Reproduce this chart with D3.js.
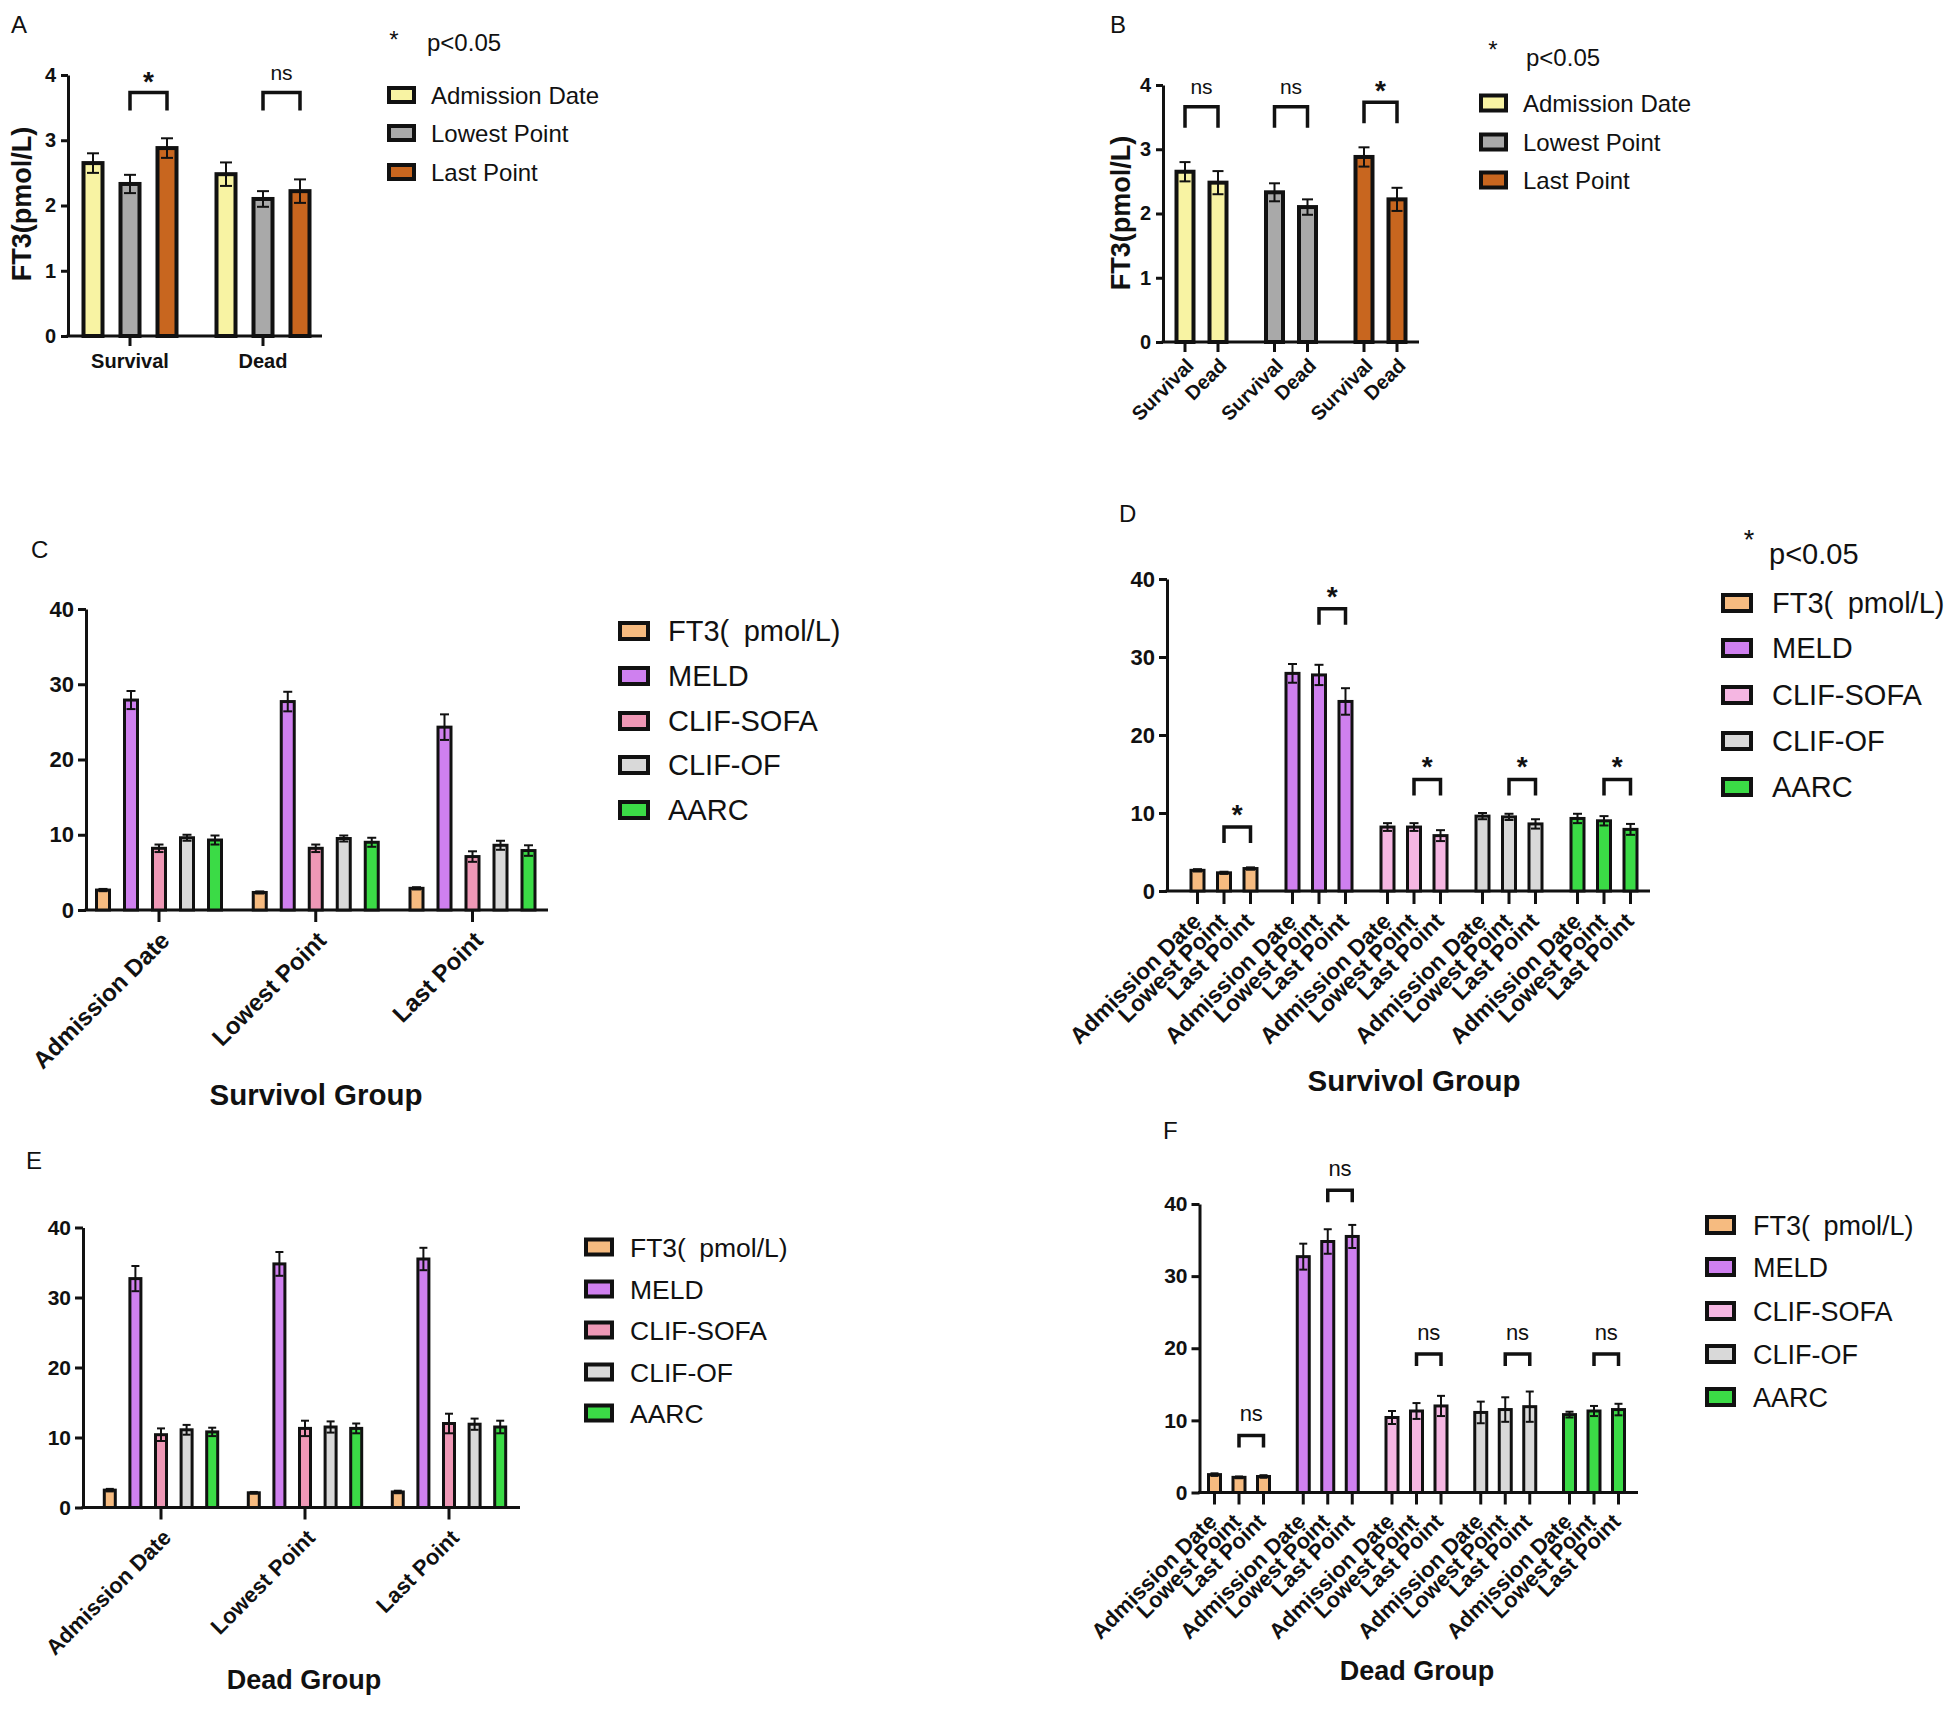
<!DOCTYPE html>
<html><head><meta charset="utf-8">
<script src="https://cdn.jsdelivr.net/npm/d3@7"></script>
<style>
body{margin:0;background:#fff;}
svg{display:block;font-family:"Liberation Sans",Arial,Helvetica,sans-serif;}
</style></head><body>
<svg id="chart" width="1960" height="1711"></svg>
<script>
// ---------------- DATA ----------------
const timePoints = ["Admission Date", "Lowest Point", "Last Point"];
const outcomes = ["Survival", "Dead"];
const scores = ["FT3(\u2002pmol/L)", "MELD", "CLIF-SOFA", "CLIF-OF", "AARC"];
const ft3Ticks = [0, 1, 2, 3, 4];
const scoreTicks = [0, 10, 20, 30, 40];

// Survival group (per time point: Admission, Lowest, Last)
const survFT3 = [2.65, 2.33, 2.88];
const survFT3Err = [0.15, 0.14, 0.15];
const survMELD = [27.9, 27.7, 24.3];
const survMELDErr = [1.2, 1.3, 1.7];
const survSOFA = [8.2, 8.2, 7.1];
const survSOFAErr = [0.5, 0.5, 0.7];
const survOF = [9.6, 9.5, 8.6];
const survOFErr = [0.4, 0.4, 0.6];
const survAARC = [9.3, 9.0, 7.9];
const survAARCErr = [0.6, 0.6, 0.7];

// Dead group
const deadFT3 = [2.48, 2.10, 2.22];
const deadFT3Err = [0.18, 0.12, 0.18];
const deadMELD = [32.7, 34.8, 35.5];
const deadMELDErr = [1.8, 1.7, 1.6];
const deadSOFA = [10.4, 11.3, 12.0];
const deadSOFAErr = [0.9, 1.1, 1.4];
const deadOF = [11.1, 11.5, 11.9];
const deadOFErr = [0.7, 0.8, 0.8];
const deadOFErrF = [1.5, 1.7, 2.1];
const deadAARC = [10.8, 11.3, 11.5];
const deadAARCErr = [0.6, 0.7, 0.9];
const deadAARCErrF = [0.4, 0.7, 0.8];

// significance labels
const sigA = ["*", "ns"];
const sigB = ["ns", "ns", "*"];
const sigD = ["*", "*", "*", "*", "*"];
const sigF = ["ns", "ns", "ns", "ns", "ns"];
const bracketTopA = [3.73, 3.73];
const bracketTopB = [3.66, 3.66, 3.73];
const bracketTopD = [8.2, 36.2, 14.3, 14.3, 14.3];
const bracketTopF = [7.9, 41.9, 19.2, 19.2, 19.2];

// colours
const timeColors = ["#f8f3a3", "#a9a9a9", "#c8661f"];
const scoreColors = ["#f6bb80", "#cf80ef", "#ef98b6", "#d9d9d9", "#3bdb46"];
const scoreColorsAlt = ["#f6bb80", "#cf80ef", "#f5b6e2", "#d9d9d9", "#3bdb46"];

// ---------------- HELPERS ----------------
const survMean = [survFT3, survMELD, survSOFA, survOF, survAARC];
const survErr = [survFT3Err, survMELDErr, survSOFAErr, survOFErr, survAARCErr];
const deadMean = [deadFT3, deadMELD, deadSOFA, deadOF, deadAARC];
const deadErrE = [deadFT3Err, deadMELDErr, deadSOFAErr, deadOFErr, deadAARCErr];
const deadErrF = [deadFT3Err, deadMELDErr, deadSOFAErr, deadOFErrF, deadAARCErrF];
const ft3Mean = {Survival: survFT3, Dead: deadFT3};
const ft3Err = {Survival: survFT3Err, Dead: deadFT3Err};
const ti = t => timePoints.indexOf(t);
const si = s => scores.indexOf(s);

const svg = d3.select("#chart");
const INK = "#111";

function drawPanel(c) {
  const root = svg.append("g");
  const y = d3.scaleLinear().domain([0, c.yMax]).range([c.y0, c.yTop]);
  const xg = d3.scalePoint().domain(c.groups).range(c.gRange);
  const xs = d3.scalePoint().domain(c.series).range([-c.innerHalf, c.innerHalf]);
  const cx = (gr, se) => xg(gr) + xs(se);
  const cells = [];
  c.groups.forEach(gr => c.series.forEach(se => cells.push({
    gr, se, v: c.value(gr, se), e: c.err(gr, se), fill: c.fill(gr, se)
  })));

  // y axis
  const yAxis = d3.axisLeft(y).tickValues(c.yTicks).tickSize(c.yTickLen)
    .tickSizeOuter(0).tickPadding(c.yTickPad).tickFormat(d3.format("d"));
  const ya = root.append("g").attr("transform", `translate(${c.axX},0)`).call(yAxis);
  ya.select(".domain").attr("stroke", INK).attr("stroke-width", c.axW);
  ya.selectAll(".tick line").attr("stroke", INK).attr("stroke-width", c.axW);
  ya.selectAll(".tick text").attr("font-size", c.tickFs).attr("font-weight", "bold")
    .attr("fill", INK).attr("font-family", "Liberation Sans, Arial, sans-serif");

  // x axis line
  root.append("line").attr("x1", c.axX - c.axW / 2).attr("x2", c.axRight)
    .attr("y1", y(0)).attr("y2", y(0)).attr("stroke", INK).attr("stroke-width", c.axW);

  // x ticks + labels
  const ticks = c.tickMode === "group"
    ? c.groups.map(gr => ({x: xg(gr), label: gr}))
    : cells.map(d => ({x: cx(d.gr, d.se), label: d.se}));
  root.selectAll("line.xt").data(ticks).join("line").attr("class", "xt")
    .attr("x1", d => d.x).attr("x2", d => d.x)
    .attr("y1", y(0)).attr("y2", y(0) + c.tickLen)
    .attr("stroke", INK).attr("stroke-width", c.axW);
  if (c.rotLabels) {
    root.selectAll("text.xl").data(ticks).join("text").attr("class", "xl")
      .attr("transform", d => `translate(${d.x + c.rotDx},${y(0) + c.tickLen + c.rotDy}) rotate(-45)`)
      .attr("text-anchor", "end").attr("dy", "0.35em")
      .attr("font-size", c.xFs).attr("font-weight", "bold").attr("fill", INK)
      .text(d => d.label);
  } else {
    root.selectAll("text.xl").data(ticks).join("text").attr("class", "xl")
      .attr("x", d => d.x).attr("y", y(0) + c.flatDy)
      .attr("text-anchor", "middle")
      .attr("font-size", c.xFs).attr("font-weight", "bold").attr("fill", INK)
      .text(d => d.label);
  }

  // bars
  root.selectAll("rect.bar").data(cells).join("rect").attr("class", "bar")
    .attr("x", d => cx(d.gr, d.se) - c.barW / 2)
    .attr("y", d => y(d.v))
    .attr("width", c.barW)
    .attr("height", d => y(0) - y(d.v))
    .attr("fill", d => d.fill).attr("stroke", INK).attr("stroke-width", c.barStroke);

  // error bars
  const eb = root.selectAll("g.eb").data(cells).join("g").attr("class", "eb");
  eb.append("line").attr("x1", d => cx(d.gr, d.se)).attr("x2", d => cx(d.gr, d.se))
    .attr("y1", d => y(d.v - d.e)).attr("y2", d => y(d.v + d.e))
    .attr("stroke", INK).attr("stroke-width", c.errW);
  [1, -1].forEach(s => {
    eb.append("line")
      .attr("x1", d => cx(d.gr, d.se) - c.capW / 2).attr("x2", d => cx(d.gr, d.se) + c.capW / 2)
      .attr("y1", d => y(d.v + s * d.e)).attr("y2", d => y(d.v + s * d.e))
      .attr("stroke", INK).attr("stroke-width", c.errW);
  });

  // significance brackets
  if (c.brackets) {
    c.brackets.forEach(b => {
      const x1 = cx(b.g, b.a), x2 = cx(b.g, b.b), yt = y(b.top);
      root.append("path")
        .attr("d", `M${x1},${yt + c.legLen}V${yt}H${x2}V${yt + c.legLen}`)
        .attr("fill", "none").attr("stroke", INK).attr("stroke-width", c.brW);
      const isStar = b.text === "*";
      const fs = isStar ? c.starFs : c.nsFs;
      root.append("text").attr("x", (x1 + x2) / 2)
        .attr("y", yt - c.labelOff + (isStar ? 0.57 : 0.26) * fs)
        .attr("text-anchor", "middle").attr("font-size", fs)
        .attr("font-weight", isStar ? "bold" : "normal").attr("fill", INK)
        .text(b.text);
    });
  }

  // legend
  const L = c.legend;
  const lg = root.selectAll("g.lg").data(L.items).join("g").attr("class", "lg");
  lg.append("rect").attr("x", L.x).attr("y", (d, i) => L.rows[i] - L.sh / 2)
    .attr("width", L.sw).attr("height", L.sh)
    .attr("fill", (d, i) => L.colors[i]).attr("stroke", INK).attr("stroke-width", L.stroke);
  lg.append("text").attr("x", L.textX).attr("y", (d, i) => L.rows[i])
    .attr("dy", "0.36em").attr("font-size", L.fs).attr("fill", INK).text(d => d);

  if (c.pnote) {
    const p = c.pnote;
    root.append("text").attr("x", p.sx).attr("y", p.sy + 0.57 * p.sfs)
      .attr("text-anchor", "middle").attr("font-size", p.sfs).attr("fill", INK).text("*");
    root.append("text").attr("x", p.tx).attr("y", p.ty).attr("font-size", p.fs)
      .attr("fill", INK).text("p<0.05");
  }
  root.append("text").attr("x", c.letter.x).attr("y", c.letter.y)
    .attr("font-size", c.letter.fs).attr("fill", INK).text(c.letter.t);
  if (c.yTitle) {
    root.append("text").attr("transform", `translate(${c.yTitle.x},${c.yTitle.y}) rotate(-90)`)
      .attr("text-anchor", "middle").attr("font-size", c.yTitle.fs).attr("font-weight", "bold")
      .attr("fill", INK).text(c.yTitle.t);
  }
  if (c.xTitle) {
    root.append("text").attr("x", c.xTitle.x).attr("y", c.xTitle.y)
      .attr("text-anchor", "middle").attr("font-size", c.xTitle.fs).attr("font-weight", "bold")
      .attr("fill", INK).text(c.xTitle.t);
  }
}

// ---------------- PANEL A ----------------
drawPanel({
  groups: outcomes, series: timePoints,
  value: (g, s) => ft3Mean[g][ti(s)], err: (g, s) => ft3Err[g][ti(s)],
  fill: (g, s) => timeColors[ti(s)],
  yMax: 4, yTicks: ft3Ticks, axX: 68, axRight: 322, yTop: 75, y0: 336,
  gRange: [130, 263], innerHalf: 37, barW: 19, barStroke: 4, capW: 12, errW: 2,
  axW: 3, yTickLen: 7, yTickPad: 5, tickFs: 20,
  tickMode: "group", tickLen: 10, rotLabels: false, flatDy: 32, xFs: 20,
  brackets: outcomes.map((g, i) => ({g, a: "Lowest Point", b: "Last Point", top: bracketTopA[i], text: sigA[i]})),
  legLen: 18, labelOff: 18, brW: 3.5, starFs: 28, nsFs: 21,
  legend: {items: timePoints, x: 389, rows: [95, 133, 172], sw: 25, sh: 14, stroke: 4, textX: 431, fs: 24, colors: timeColors},
  pnote: {sx: 394, sy: 34, sfs: 24, tx: 427, ty: 51, fs: 24},
  letter: {t: "A", x: 11, y: 33, fs: 24},
  yTitle: {t: "FT3(pmol/L)", x: 31, y: 204, fs: 27}
});

// ---------------- PANEL B ----------------
drawPanel({
  groups: timePoints, series: outcomes,
  value: (g, s) => ft3Mean[s][ti(g)], err: (g, s) => ft3Err[s][ti(g)],
  fill: (g, s) => timeColors[ti(g)],
  yMax: 4, yTicks: ft3Ticks, axX: 1163, axRight: 1419, yTop: 85, y0: 342,
  gRange: [1201.5, 1380.5], innerHalf: 16.5, barW: 17, barStroke: 4, capW: 11, errW: 2,
  axW: 3, yTickLen: 7, yTickPad: 5, tickFs: 20,
  tickMode: "bar", tickLen: 10, rotLabels: true, rotDx: 5, rotDy: 10, xFs: 20,
  brackets: timePoints.map((g, i) => ({g, a: "Survival", b: "Dead", top: bracketTopB[i], text: sigB[i]})),
  legLen: 21, labelOff: 18, brW: 3.5, starFs: 28, nsFs: 21,
  legend: {items: timePoints, x: 1481, rows: [103, 142, 180], sw: 25, sh: 15, stroke: 4, textX: 1523, fs: 24, colors: timeColors},
  pnote: {sx: 1493, sy: 44, sfs: 24, tx: 1526, ty: 66, fs: 24},
  letter: {t: "B", x: 1110, y: 33, fs: 24},
  yTitle: {t: "FT3(pmol/L)", x: 1130, y: 213, fs: 27}
});

// ---------------- PANEL C ----------------
drawPanel({
  groups: timePoints, series: scores,
  value: (g, s) => survMean[si(s)][ti(g)], err: (g, s) => survErr[si(s)][ti(g)],
  fill: (g, s) => scoreColors[si(s)],
  yMax: 40, yTicks: scoreTicks, axX: 86, axRight: 548, yTop: 609, y0: 910,
  gRange: [159, 472.5], innerHalf: 56, barW: 13, barStroke: 3, capW: 9, errW: 2,
  axW: 3, yTickLen: 8, yTickPad: 4, tickFs: 22,
  tickMode: "group", tickLen: 12, rotLabels: true, rotDx: 6, rotDy: 14, xFs: 24,
  legend: {items: scores, x: 620, rows: [631, 676, 721, 765, 810], sw: 28, sh: 16, stroke: 4, textX: 668, fs: 29, colors: scoreColors},
  letter: {t: "C", x: 31, y: 558, fs: 24},
  xTitle: {t: "Survivol Group", x: 316, y: 1105, fs: 29.5}
});

// ---------------- PANEL D ----------------
drawPanel({
  groups: scores, series: timePoints,
  value: (g, s) => survMean[si(g)][ti(s)], err: (g, s) => survErr[si(g)][ti(s)],
  fill: (g, s) => scoreColorsAlt[si(g)],
  yMax: 40, yTicks: scoreTicks, axX: 1167, axRight: 1650, yTop: 579, y0: 891,
  gRange: [1224, 1604], innerHalf: 26.5, barW: 13, barStroke: 3, capW: 9, errW: 2,
  axW: 3, yTickLen: 8, yTickPad: 4, tickFs: 22,
  tickMode: "bar", tickLen: 13, rotLabels: true, rotDx: -1, rotDy: 13, xFs: 23,
  brackets: scores.map((g, i) => ({g, a: "Lowest Point", b: "Last Point", top: bracketTopD[i], text: sigD[i]})),
  legLen: 16, labelOff: 19, brW: 3.5, starFs: 28, nsFs: 22,
  legend: {items: scores, x: 1723, rows: [603, 648, 695, 741, 787], sw: 28, sh: 16, stroke: 4, textX: 1772, fs: 29, colors: scoreColorsAlt},
  pnote: {sx: 1749, sy: 534, sfs: 27, tx: 1769, ty: 564, fs: 29},
  letter: {t: "D", x: 1119, y: 522, fs: 24},
  xTitle: {t: "Survivol Group", x: 1414, y: 1091, fs: 29.5}
});

// ---------------- PANEL E ----------------
drawPanel({
  groups: timePoints, series: scores,
  value: (g, s) => deadMean[si(s)][ti(g)], err: (g, s) => deadErrE[si(s)][ti(g)],
  fill: (g, s) => scoreColors[si(s)],
  yMax: 40, yTicks: scoreTicks, axX: 83, axRight: 520, yTop: 1227.5, y0: 1507.5,
  gRange: [161, 449], innerHalf: 51.2, barW: 11, barStroke: 3, capW: 8, errW: 2,
  axW: 3, yTickLen: 8, yTickPad: 4, tickFs: 21,
  tickMode: "group", tickLen: 12, rotLabels: true, rotDx: 6, rotDy: 14, xFs: 22,
  legend: {items: scores, x: 586, rows: [1247, 1289, 1330, 1372, 1413], sw: 26, sh: 15, stroke: 4, textX: 630, fs: 26.5, colors: scoreColors},
  letter: {t: "E", x: 26, y: 1169, fs: 24},
  xTitle: {t: "Dead Group", x: 304, y: 1689, fs: 27}
});

// ---------------- PANEL F ----------------
drawPanel({
  groups: scores, series: timePoints,
  value: (g, s) => deadMean[si(g)][ti(s)], err: (g, s) => deadErrF[si(g)][ti(s)],
  fill: (g, s) => scoreColorsAlt[si(g)],
  yMax: 40, yTicks: scoreTicks, axX: 1199.5, axRight: 1638, yTop: 1204, y0: 1492.5,
  gRange: [1239, 1594], innerHalf: 24.5, barW: 12, barStroke: 3, capW: 8, errW: 2,
  axW: 3, yTickLen: 8, yTickPad: 4, tickFs: 21,
  tickMode: "bar", tickLen: 12, rotLabels: true, rotDx: -2, rotDy: 13, xFs: 22,
  brackets: scores.map((g, i) => ({g, a: "Lowest Point", b: "Last Point", top: bracketTopF[i], text: sigF[i]})),
  legLen: 12, labelOff: 20, brW: 3.5, starFs: 28, nsFs: 22,
  legend: {items: scores, x: 1707, rows: [1225, 1267, 1311, 1354, 1397], sw: 27, sh: 16, stroke: 4, textX: 1753, fs: 27, colors: scoreColorsAlt},
  letter: {t: "F", x: 1163, y: 1139, fs: 24},
  xTitle: {t: "Dead Group", x: 1417, y: 1680, fs: 27}
});
</script>
</body></html>
